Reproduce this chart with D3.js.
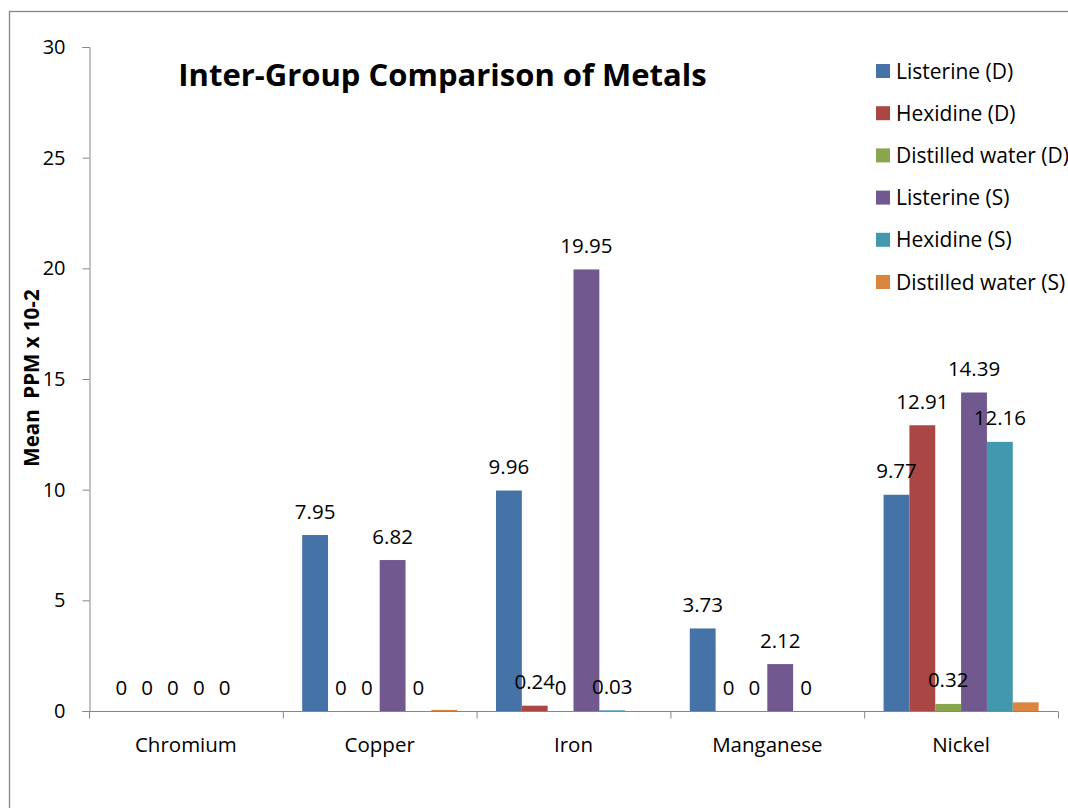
<!DOCTYPE html>
<html>
<head>
<meta charset="utf-8">
<script src="https://cdn.jsdelivr.net/npm/d3@7"></script>
<style>
  body { margin: 0; background: #fff; }
  svg { display: block; font-family: "Open Sans", Carlito, Calibri, sans-serif; }
</style>
</head>
<body>
<svg id="chart" width="1068" height="808"></svg>
<script>
const categories = ["Chromium", "Copper", "Iron", "Manganese", "Nickel"];
const seriesNames = ["Listerine (D)", "Hexidine (D)", "Distilled water (D)", "Listerine (S)", "Hexidine (S)", "Distilled water (S)"];
const seriesColors = ["#4572A7", "#AA4643", "#89A54E", "#71588F", "#4198AF", "#DB843D"];
const listerineD = [0, 7.95, 9.96, 3.73, 9.77];
const hexidineD = [0, 0, 0.24, 0, 12.91];
const distilledD = [0, 0, 0, 0, 0.32];
const listerineS = [0, 6.82, 19.95, 2.12, 14.39];
const hexidineS = [0, 0, 0.03, 0, 12.16];
const distilledS = [0, 0.05, 0, 0, 0.39];
// the last series carries no data labels in the original
const showLabels = [true, true, true, true, true, false];
const yTicks = [0, 5, 10, 15, 20, 25, 30];

const seriesValues = [listerineD, hexidineD, distilledD, listerineS, hexidineS, distilledS];

const svg = d3.select("#chart");

// outer frame (runs past the right and bottom edges)
svg.append("rect")
  .attr("x", 9.5).attr("y", 11.5)
  .attr("width", 1100).attr("height", 850)
  .attr("fill", "none").attr("stroke", "#868686").attr("stroke-width", 1.3);

const x0 = d3.scaleBand().domain(categories).range([89, 1058]).padding(0);
const x1 = d3.scaleBand().domain(seriesNames).range([0, x0.bandwidth()])
  .paddingInner(0).paddingOuter(0.75);
const y = d3.scaleLinear().domain([0, 30]).range([711, 47]);

// y axis
const yAxis = svg.append("g").attr("transform", "translate(89.5,0)")
  .call(d3.axisLeft(y).tickValues(yTicks).tickSize(7).tickPadding(17));
yAxis.attr("font-family", null).attr("font-size", null);
yAxis.selectAll("line, path").attr("stroke", "#868686");
yAxis.selectAll("text").attr("font-size", 20).attr("fill", "#000");

// x axis
const xAxis = svg.append("g").attr("transform", "translate(0,711.5)");
xAxis.append("line")
  .attr("x1", 89).attr("x2", 1058)
  .attr("stroke", "#868686");
xAxis.selectAll("line.tick")
  .data(d3.range(categories.length + 1))
  .enter().append("line")
  .attr("class", "tick")
  .attr("x1", (i) => (i < categories.length ? x0(categories[i]) : x0.range()[1]) + 0.5)
  .attr("x2", (i) => (i < categories.length ? x0(categories[i]) : x0.range()[1]) + 0.5)
  .attr("y1", 0).attr("y2", 7)
  .attr("stroke", "#868686");
xAxis.selectAll("text")
  .data(categories)
  .enter().append("text")
  .attr("x", (d) => x0(d) + x0.bandwidth() / 2)
  .attr("y", 40)
  .attr("text-anchor", "middle")
  .attr("font-size", 20.5)
  .text((d) => d);

// bars
const groups = svg.selectAll("g.series")
  .data(seriesNames)
  .enter().append("g")
  .attr("class", "series")
  .attr("fill", (d, i) => seriesColors[i]);

groups.selectAll("rect")
  .data((s, si) => categories.map((c, ci) => ({ c, s, v: seriesValues[si][ci] })))
  .enter().append("rect")
  .attr("x", (d) => x0(d.c) + x1(d.s))
  .attr("width", x1.bandwidth())
  .attr("y", (d) => y(d.v))
  .attr("height", (d) => y(0) - y(d.v));

// data labels, in their own layer above every bar
const labelData = [];
seriesNames.forEach((s, si) => {
  if (!showLabels[si]) return;
  categories.forEach((c, ci) => labelData.push({ c, s, v: seriesValues[si][ci] }));
});
svg.append("g").attr("class", "labels")
  .selectAll("text")
  .data(labelData)
  .enter().append("text")
  .attr("x", (d) => x0(d.c) + x1(d.s) + x1.bandwidth() / 2)
  .attr("y", (d) => y(d.v) - 16.5)
  .attr("text-anchor", "middle")
  .attr("font-size", 20.5)
  .attr("fill", "#000")
  .text((d) => String(d.v));

// title
svg.append("text")
  .attr("x", 442.5).attr("y", 86)
  .attr("text-anchor", "middle")
  .attr("font-size", 31)
  .attr("font-weight", "bold")
  .text("Inter-Group Comparison of Metals");

// y axis title
svg.append("text")
  .attr("transform", "translate(39,378) rotate(-90)")
  .attr("text-anchor", "middle")
  .attr("font-size", 20.5)
  .attr("font-weight", "bold")
  .style("white-space", "pre")
  .text("Mean  PPM x 10-2");

// legend
const legend = svg.selectAll("g.legend")
  .data(seriesNames)
  .enter().append("g")
  .attr("class", "legend")
  .attr("transform", (d, i) => `translate(876,${71 + i * 42.2})`);
legend.append("rect")
  .attr("x", 0).attr("y", -7)
  .attr("width", 14).attr("height", 14)
  .attr("fill", (d, i) => seriesColors[i]);
legend.append("text")
  .attr("x", 20).attr("y", 7.5)
  .attr("font-size", 21)
  .text((d) => d);
</script>
</body>
</html>
